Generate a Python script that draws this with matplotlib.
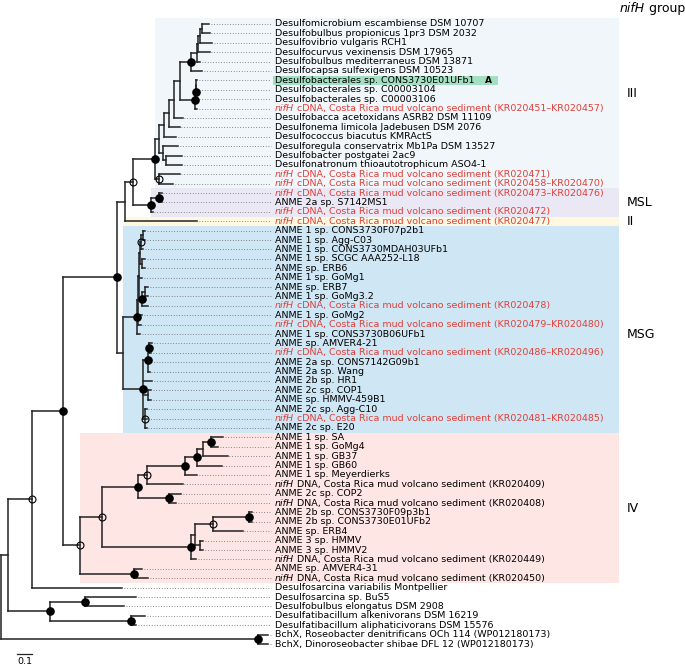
import matplotlib
matplotlib.use('Agg')
import matplotlib.pyplot as plt
from matplotlib.patches import Rectangle
from matplotlib.collections import LineCollection

# ---------------- data ----------------
leaf_names = [
    "Desulfomicrobium escambiense DSM 10707",
    "Desulfobulbus propionicus 1pr3 DSM 2032",
    "Desulfovibrio vulgaris RCH1",
    "Desulfocurvus vexinensis DSM 17965",
    "Desulfobulbus mediterraneus DSM 13871",
    "Desulfocapsa sulfexigens DSM 10523",
    "Desulfobacterales sp. CONS3730E01UFb1",
    "Desulfobacterales sp. C00003104",
    "Desulfobacterales sp. C00003106",
    "nifH cDNA, Costa Rica mud volcano sediment (KR020451\u2013KR020457)",
    "Desulfobacca acetoxidans ASRB2 DSM 11109",
    "Desulfonema limicola Jadebusen DSM 2076",
    "Desulfococcus biacutus KMRActS",
    "Desulforegula conservatrix Mb1Pa DSM 13527",
    "Desulfobacter postgatei 2ac9",
    "Desulfonatronum thioautotrophicum ASO4-1",
    "nifH cDNA, Costa Rica mud volcano sediment (KR020471)",
    "nifH cDNA, Costa Rica mud volcano sediment (KR020458\u2013KR020470)",
    "nifH cDNA, Costa Rica mud volcano sediment (KR020473\u2013KR020476)",
    "ANME 2a sp. S7142MS1",
    "nifH cDNA, Costa Rica mud volcano sediment (KR020472)",
    "nifH cDNA, Costa Rica mud volcano sediment (KR020477)",
    "ANME 1 sp. CONS3730F07p2b1",
    "ANME 1 sp. Agg-C03",
    "ANME 1 sp. CONS3730MDAH03UFb1",
    "ANME 1 sp. SCGC AAA252-L18",
    "ANME sp. ERB6",
    "ANME 1 sp. GoMg1",
    "ANME sp. ERB7",
    "ANME 1 sp. GoMg3.2",
    "nifH cDNA, Costa Rica mud volcano sediment (KR020478)",
    "ANME 1 sp. GoMg2",
    "nifH cDNA, Costa Rica mud volcano sediment (KR020479\u2013KR020480)",
    "ANME 1 sp. CONS3730B06UFb1",
    "ANME sp. AMVER4-21",
    "nifH cDNA, Costa Rica mud volcano sediment (KR020486\u2013KR020496)",
    "ANME 2a sp. CONS7142G09b1",
    "ANME 2a sp. Wang",
    "ANME 2b sp. HR1",
    "ANME 2c sp. COP1",
    "ANME sp. HMMV-459B1",
    "ANME 2c sp. Agg-C10",
    "nifH cDNA, Costa Rica mud volcano sediment (KR020481\u2013KR020485)",
    "ANME 2c sp. E20",
    "ANME 1 sp. SA",
    "ANME 1 sp. GoMg4",
    "ANME 1 sp. GB37",
    "ANME 1 sp. GB60",
    "ANME 1 sp. Meyerdierks",
    "nifH DNA, Costa Rica mud volcano sediment (KR020409)",
    "ANME 2c sp. COP2",
    "nifH DNA, Costa Rica mud volcano sediment (KR020408)",
    "ANME 2b sp. CONS3730F09p3b1",
    "ANME 2b sp. CONS3730E01UFb2",
    "ANME sp. ERB4",
    "ANME 3 sp. HMMV",
    "ANME 3 sp. HMMV2",
    "nifH DNA, Costa Rica mud volcano sediment (KR020449)",
    "ANME sp. AMVER4-31",
    "nifH DNA, Costa Rica mud volcano sediment (KR020450)",
    "Desulfosarcina variabilis Montpellier",
    "Desulfosarcina sp. BuS5",
    "Desulfobulbus elongatus DSM 2908",
    "Desulfatibacillum alkenivorans DSM 16219",
    "Desulfatibacillum aliphaticivorans DSM 15576",
    "BchX, Roseobacter denitrificans OCh 114 (WP012180173)",
    "BchX, Dinoroseobacter shibae DFL 12 (WP012180173)",
]

# cumulative distance from the root for every leaf tip
leaf_depth = [
    1.387, 1.393, 1.407, 1.393, 1.327, 1.340, 1.307, 1.307, 1.307, 1.307,
    1.213, 1.193, 1.167, 1.180, 1.207, 1.207, 1.193, 1.147, 1.073, 1.073,
    1.013, 1.307, 0.960, 0.960, 0.947, 0.960, 0.960, 0.940, 0.980, 0.980,
    0.980, 0.940, 0.933, 0.927, 1.007, 1.000, 0.993, 0.993, 1.007, 1.000,
    1.000, 0.973, 0.973, 0.973, 1.480, 1.447, 1.513, 1.473, 1.307, 1.213,
    1.200, 1.167, 1.673, 1.673, 1.613, 1.347, 1.347, 1.300, 0.940, 0.980,
    0.807, 0.900, 0.820, 0.960, 0.900, 1.780, 1.780,
]

# internal nodes: id, depth, children (int = leaf index), support marker
node_ids = ["K", "J", "I", "H", "G", "P", "T", "L", "U", "V", "W", "X", "Q", "N14",
            "Y", "F", "C", "E", "D", "B", "A",
            "S1", "S2", "S3", "R5", "P29", "R1", "R2", "R", "MSG1",
            "M1", "M2", "P40", "M4", "M3", "MSG", "N117",
            "n1", "n2", "n3", "n4", "n5", "n6", "n7", "n9", "n10", "n11", "n13", "n12",
            "IVA", "IVB", "IV", "N63", "N32", "nbus", "ndsf", "nout", "N8", "nbch", "root"]
node_depth = [1.340, 1.327, 1.313, 1.307, 1.267, 1.300, 1.297, 1.293, 1.193, 1.153,
              1.120, 1.087, 1.100, 1.080, 1.053, 1.053, 1.027, 1.053, 1.000, 0.880,
              0.827,
              0.947, 0.933, 0.940, 0.927, 0.960, 0.940, 0.920, 0.913, 0.907,
              0.987, 0.977, 0.980, 0.960, 0.947, 0.813, 0.773,
              1.400, 1.347, 1.307, 1.227, 0.973, 1.120, 0.913, 1.653, 1.413, 1.327,
              1.293, 1.267,
              0.673, 0.887, 0.527, 0.413, 0.207, 0.560, 0.867, 0.327, 0.047, 1.713, 0.0]
node_children = [
    [0, 1], ["K", 2], ["J", 3], ["I", 4], ["H", 5], [6, 7], ["P", 8], ["T", 9],
    ["G", "L"], ["U", 10], ["V", 11], ["W", 12], [14, 15], [13, "Q"],
    ["X", "N14"], [16, 17], ["Y", "F"], [18, 19], ["E", 20], ["C", "D"], ["B", 21],
    [22, 23], ["S1", 24], [25, 26], ["S2", "S3"], [28, 29], ["P29", 30],
    ["R5", 27, "R1"], ["R2", 31, 32], ["R", 33],
    [34, 35], ["M1", 36, 37], [39, 40], [41, 42, 43], ["M2", 38, "P40", "M4"],
    ["MSG1", "M3"], ["A", "MSG"],
    [44, 45], ["n1", 46], ["n2", 47], ["n3", 48], ["n4", 49], [50, 51], ["n5", "n6"],
    [52, 53], ["n9", 54], [55, 56], ["n10", "n11"], ["n13", 57],
    ["n7", "n12"], [58, 59], ["IVA", "IVB"], ["N117", "IV"], ["N63", 60],
    [61, 62], [63, 64], ["nbus", "ndsf"], ["N32", "nout"], [65, 66], ["N8", "nbch"],
]
node_support = {
    "G": "f", "T": "f", "L": "f", "F": "o", "C": "f", "E": "f", "D": "f", "B": "o",
    "S2": "o", "R1": "f", "MSG1": "f", "M1": "f", "M2": "f", "M4": "o", "M3": "f",
    "N117": "f", "n1": "f", "n3": "f", "n4": "f", "n5": "o", "n6": "f", "n7": "f",
    "n9": "f", "n10": "o", "n12": "f", "IVA": "o", "IVB": "f", "IV": "o",
    "N63": "f", "N32": "o", "nbus": "f", "ndsf": "f", "nout": "f", "nbch": "f",
}

# shaded nifH groups: label, first leaf, last leaf, left edge (distance), colour
group_labels = ["III", "MSL", "II", "MSG", "IV"]
group_first = [0, 18, 21, 22, 44]
group_last = [17, 20, 21, 43, 59]
group_left = [1.027, 1.000, 0.813, 0.813, 0.527]
group_colors = ["#f0f6fa", "#ebe8f6", "#fdf8df", "#cfe6f4", "#fde6e4"]
group_label_rows = [7.35, 18.95, 21.0, 33.0, 51.6]

highlight_leaf = 6
scale_len = 0.1

# ---------------- layout ----------------
W, H = 685, 665
fig = plt.figure(figsize=(W / 100, H / 100), dpi=100)
ax = fig.add_axes([0, 0, 1, 1])
PXU = 150.0          # pixels per unit distance
ROW = 9.394          # pixels per row
Y0 = 24.0            # pixel of first leaf
ax.set_xlim(-1 / PXU, (W - 1) / PXU)
ax.set_ylim((H - Y0) / ROW, -Y0 / ROW)
ax.axis("off")

def px2x(p):
    return (p - 1) / PXU

RED = "#e0403a"
LINE = "#222222"
label_x = px2x(275)
dot_end = px2x(271)
right_edge = px2x(619)

# compute node y
depth = {nid: d for nid, d in zip(node_ids, node_depth)}
children = {nid: c for nid, c in zip(node_ids, node_children)}
ypos = {}

def get_y(c):
    if isinstance(c, int):
        return float(c)
    if c in ypos:
        return ypos[c]
    ys = [get_y(k) for k in children[c]]
    ypos[c] = (ys[0] + ys[-1]) / 2
    return ypos[c]

for nid in node_ids:
    get_y(nid)

def get_x(c):
    return leaf_depth[c] if isinstance(c, int) else depth[c]

# backgrounds
for lab, a, b, left, col in zip(group_labels, group_first, group_last, group_left, group_colors):
    top = a - 0.5 if lab != "III" else -0.64
    ax.add_patch(Rectangle((left, top), right_edge - left, (b + 0.5) - top,
                           facecolor=col, edgecolor="none", zorder=0))

# highlight
ax.add_patch(Rectangle((px2x(273), highlight_leaf - 0.5), px2x(498) - px2x(273), 1.0,
                       facecolor="#a3dfc1", edgecolor="none", zorder=0.5))
ax.text(px2x(488), highlight_leaf, "A", fontsize=6.5, fontweight="bold",
        ha="center", va="center", zorder=3)

# tree lines
segs = []
for nid in node_ids:
    x = depth[nid]
    ys = [get_y(c) for c in children[nid]]
    segs.append([(x, ys[0]), (x, ys[-1])])
    for c, yc in zip(children[nid], ys):
        segs.append([(x, yc), (get_x(c), yc)])
ax.add_collection(LineCollection(segs, colors=LINE, linewidths=1.1,
                                 capstyle="projecting", zorder=2))

# leader dots
for i, d in enumerate(leaf_depth):
    if dot_end - d > 0.01:
        ax.plot([d + 0.01, dot_end], [i, i], color="#666666", lw=0.6,
                linestyle=(0, (1, 2.2)), zorder=1.5)

# support markers
for nid, kind in node_support.items():
    if kind == "f":
        ax.plot(depth[nid], ypos[nid], "o", ms=5.2, color="black", zorder=4)
    else:
        ax.plot(depth[nid], ypos[nid], "o", ms=5.0, mfc="none", mec="black",
                mew=0.8, zorder=4)

# labels
FS = 6.8

def italic_prefix(x, y, prefix, rest, col, fs, ha="left"):
    t1 = ax.text(x, y, prefix, fontsize=fs, color=col, style="italic",
                 ha="left", va="center", zorder=3)
    ax.annotate(rest, xy=(1, 0.5), xycoords=t1, fontsize=fs, color=col,
                ha="left", va="center", zorder=3)
    return t1

for i, name in enumerate(leaf_names):
    if name.startswith("nifH"):
        col = RED if "cDNA" in name else "black"
        italic_prefix(label_x, i, "nifH", name[4:], col, FS)
    else:
        ax.text(label_x, i, name, fontsize=FS, color="black", ha="left",
                va="center", zorder=3)

# group labels
for lab, r in zip(group_labels, group_label_rows):
    ax.text(px2x(627), r, lab, fontsize=9, ha="left", va="center")
italic_prefix(px2x(620), -1.7, "nifH", " group", "black", 9)

# scale bar
sb_x0 = px2x(17)
ax.plot([sb_x0, sb_x0 + scale_len], [67.06, 67.06], color=LINE, lw=0.9)
ax.text(sb_x0 + scale_len / 2, 67.85, "0.1", fontsize=6.8, ha="center", va="center")

fig.savefig("out.png", dpi=100)
